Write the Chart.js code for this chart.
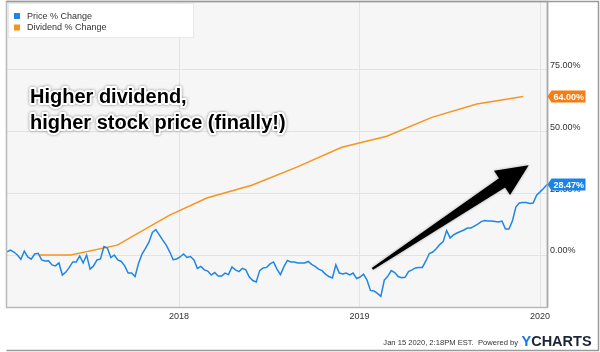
<!DOCTYPE html>
<html>
<head>
<meta charset="utf-8">
<script src="https://cdn.jsdelivr.net/npm/chart.js@4.4.1/dist/chart.umd.min.js"></script>
<style>
  html, body { margin: 0; padding: 0; background: #ffffff; }
  #wrap { position: relative; width: 600px; height: 352px; }
  canvas { display: block; }
</style>
</head>
<body>
<div id="wrap"><canvas id="c" width="600" height="352"></canvas></div>
<script>
// ---------- DATA ----------
const startDate = '2017-01-18';
const stepDays = 7; // weekly readings of the price line
const priceValues = [
  1.3, 2.0, 1.2, 0.0, -1.7, 1.6, -0.8, -1.7, 0.4, 0.7,
  -2.0, -2.4, -2.3, -4.0, -4.4, -3.2, -8.1, -6.9, -5.0, -2.8,
  -2.8, -0.4, -3.2, 0.0, -5.7, -4.4, -2.0, -1.6, 3.4, 2.8,
  -1.0, 0.0, -2.0, -2.6, -4.4, -7.3, -7.3, -8.7, -3.4, 0.4,
  2.7, 5.2, 9.1, 10.3, 8.1, 6.0, 4.0, 1.3, -1.9, -1.6,
  -0.8, 0.4, -1.0, -0.6, -2.0, -5.4, -4.6, -6.0, -6.5, -8.1,
  -7.1, -8.5, -8.5, -7.3, -7.9, -4.8, -6.0, -6.7, -5.4, -6.0,
  -8.9, -10.3, -10.9, -6.3, -5.2, -5.0, -3.6, -2.8, -5.7, -7.9,
  -4.7, -2.2, -2.8, -2.8, -3.2, -3.2, -3.2, -2.6, -3.8, -4.6,
  -5.7, -6.3, -7.7, -8.7, -9.3, -4.0, -7.3, -7.7, -7.3, -8.0,
  -7.3, -9.5, -8.9, -7.7, -10.1, -14.3, -14.5, -15.5, -16.7, -10.1,
  -8.6, -6.3, -7.1, -8.7, -9.2, -9.0, -6.7, -6.0, -5.2, -5.0,
  -5.0, -2.4, 0.6, 1.2, 2.5, 4.2, 5.4, 9.9, 6.9, 8.1,
  8.9, 9.5, 10.1, 10.9, 10.9, 11.7, 12.5, 13.5, 13.9, 13.7,
  13.7, 13.5, 13.3, 13.7, 10.5, 10.5, 13.7, 19.4, 21.0, 21.2,
  21.2, 20.8, 21.0, 24.2, 25.5, 26.9, 28.47
];
const dividendDates = [
  '2017-03-24', '2017-05-27', '2017-08-29', '2017-12-12',
  '2018-02-26', '2018-05-28', '2018-08-27', '2018-11-26',
  '2019-02-25', '2019-05-27', '2019-08-26', '2019-11-28'
];
const dividendValues = [0, 0, 4.0, 16.0, 23.0, 28.2, 35.5, 43.5, 48.0, 55.6, 61.0, 64.0];
const yearTickDates = ['2018-01-01', '2019-01-01', '2020-01-01'];
const yTickValues = [0, 25, 50, 75];
const seriesNames = ['Price % Change', 'Dividend % Change'];
const annotationLines = ['Higher dividend,', 'higher stock price (finally!)'];
const arrowFrom = { date: '2019-01-27', value: -5.6 };
const arrowTo = { date: '2019-12-09', value: 36.3 };
const footerText = 'Jan 15 2020, 2:18PM EST.  Powered by';

// ---------- helpers ----------
const DAY = 86400000;
const t0 = Date.parse(startDate);
const dayOf = d => (Date.parse(d) - t0) / DAY;
const priceLastDay = (priceValues.length - 1) * stepDays;

const BLUE = '#1d86e6';
const ORANGE = '#f7941f';
const FONT = '"Liberation Sans", Arial, Helvetica, sans-serif';

const pricePoints = priceValues.map((v, i) => ({ x: i * stepDays, y: v }));
const dividendPoints = dividendDates.map((d, i) => ({ x: dayOf(d), y: dividendValues[i] }));

function drawTag(ctx, x, y, text, color) {
  const h = 12, tip = 4, w = 34;
  ctx.save();
  ctx.fillStyle = color;
  ctx.beginPath();
  ctx.moveTo(x, y);
  ctx.lineTo(x + tip, y - h / 2);
  ctx.lineTo(x + tip + w, y - h / 2);
  ctx.lineTo(x + tip + w, y + h / 2);
  ctx.lineTo(x + tip, y + h / 2);
  ctx.closePath();
  ctx.fill();
  ctx.fillStyle = '#ffffff';
  ctx.font = 'bold 9px ' + FONT;
  ctx.textBaseline = 'middle';
  ctx.textAlign = 'left';
  ctx.fillText(text, x + tip + 2, y + 0.5);
  ctx.restore();
}

const decorPlugin = {
  id: 'decor',
  beforeDraw(chart) {
    const { ctx, chartArea: a } = chart;
    ctx.save();
    ctx.fillStyle = '#ffffff';
    ctx.fillRect(0, 0, chart.width, chart.height);
    ctx.fillStyle = '#f6f6f6';
    ctx.fillRect(a.left, a.top, a.right - a.left, a.bottom - a.top);
    ctx.restore();
  },
  afterDraw(chart) {
    const { ctx, chartArea: a, scales } = chart;
    const xs = scales.x, ys = scales.y;
    ctx.save();

    // frames
    ctx.strokeStyle = '#b9b9b9';
    ctx.lineWidth = 1.5;
    ctx.strokeRect(a.left - 0.5, a.top - 0.5, a.right - a.left + 1, a.bottom - a.top + 1);
    ctx.strokeStyle = '#a8a8a8';
    ctx.beginPath();
    ctx.moveTo(a.right + 0.5, a.top);
    ctx.lineTo(a.right + 0.5, a.bottom);
    ctx.stroke();
    ctx.strokeStyle = '#9a9a9a';
    ctx.beginPath();
    ctx.moveTo(a.left - 0.5, a.top - 0.5);
    ctx.lineTo(598.5, a.top - 0.5);
    ctx.lineTo(598.5, 350.5);
    ctx.lineTo(a.left - 0.5, 350.5);
    ctx.stroke();

    // legend box
    ctx.fillStyle = '#ffffff';
    ctx.fillRect(a.left + 1, a.top + 1, 185, 34);
    ctx.strokeStyle = '#e8e8e8';
    ctx.lineWidth = 1;
    ctx.strokeRect(a.left + 1.5, a.top + 1.5, 185, 34);
    const legColors = [BLUE, ORANGE];
    ctx.font = '9px ' + FONT;
    ctx.textBaseline = 'middle';
    ctx.textAlign = 'left';
    seriesNames.forEach((name, i) => {
      const cy = 16 + i * 11.5;
      ctx.fillStyle = legColors[i];
      ctx.fillRect(14, cy - 3, 6, 6);
      ctx.fillStyle = '#333333';
      ctx.fillText(name, 27, cy + 0.5);
    });

    // annotation text
    ctx.font = 'bold 20px ' + FONT;
    ctx.textBaseline = 'alphabetic';
    ctx.lineJoin = 'round';
    annotationLines.forEach((line, i) => {
      const tx = 30, ty = 102.5 + i * 26;
      ctx.save();
      ctx.shadowColor = 'rgba(0,0,0,0.45)';
      ctx.shadowBlur = 3;
      ctx.strokeStyle = '#ffffff';
      ctx.lineWidth = 4;
      ctx.strokeText(line, tx, ty);
      ctx.restore();
      ctx.fillStyle = '#000000';
      ctx.fillText(line, tx, ty);
    });

    // arrow
    const p0 = { x: xs.getPixelForValue(dayOf(arrowFrom.date)), y: ys.getPixelForValue(arrowFrom.value) };
    const p1 = { x: xs.getPixelForValue(dayOf(arrowTo.date)), y: ys.getPixelForValue(arrowTo.value) };
    const dx = p1.x - p0.x, dy = p1.y - p0.y, len = Math.hypot(dx, dy);
    const ux = dx / len, uy = dy / len, nx = -uy, ny = ux;
    const headLen = 32, headHalf = 14.5, tailHalf = 1.2, baseHalf = 5.5;
    const bx = p1.x - ux * headLen, by = p1.y - uy * headLen;
    ctx.save();
    ctx.shadowColor = 'rgba(0,0,0,0.35)';
    ctx.shadowBlur = 3;
    ctx.fillStyle = '#000000';
    ctx.beginPath();
    ctx.moveTo(p0.x + nx * tailHalf, p0.y + ny * tailHalf);
    ctx.lineTo(bx + nx * baseHalf, by + ny * baseHalf);
    ctx.lineTo(bx + nx * headHalf, by + ny * headHalf);
    ctx.lineTo(p1.x, p1.y);
    ctx.lineTo(bx - nx * headHalf, by - ny * headHalf);
    ctx.lineTo(bx - nx * baseHalf, by - ny * baseHalf);
    ctx.lineTo(p0.x - nx * tailHalf, p0.y - ny * tailHalf);
    ctx.closePath();
    ctx.fill();
    ctx.restore();

    // last-value tags
    const lastDiv = dividendValues[dividendValues.length - 1];
    const lastPrice = priceValues[priceValues.length - 1];
    drawTag(ctx, a.right + 0.5, ys.getPixelForValue(lastDiv), lastDiv.toFixed(2) + '%', '#f57d12');
    drawTag(ctx, a.right + 0.5, ys.getPixelForValue(lastPrice), lastPrice.toFixed(2) + '%', '#1a84e6');

    // footer
    ctx.textBaseline = 'alphabetic';
    ctx.textAlign = 'right';
    ctx.fillStyle = '#333333';
    ctx.font = '7.6px ' + FONT;
    ctx.fillText(footerText, 518, 345);
    ctx.textAlign = 'left';
    ctx.font = 'bold 14.5px ' + FONT;
    ctx.fillStyle = '#1f74e6';
    ctx.fillText('Y', 521.5, 346);
    const yw = ctx.measureText('Y').width;
    ctx.fillStyle = '#1b2536';
    ctx.fillText('CHARTS', 521.5 + yw, 346);

    ctx.restore();
  }
};

new Chart(document.getElementById('c'), {
  type: 'line',
  data: {
    datasets: [
      { label: seriesNames[0], data: pricePoints, borderColor: BLUE, borderWidth: 1.5, pointRadius: 0, tension: 0, fill: false },
      { label: seriesNames[1], data: dividendPoints, borderColor: ORANGE, borderWidth: 1.5, pointRadius: 0, tension: 0, fill: false }
    ]
  },
  options: {
    responsive: false,
    animation: false,
    devicePixelRatio: 1,
    layout: { padding: { left: 7, top: 2, right: 0, bottom: 0 } },
    plugins: { legend: { display: false }, tooltip: { enabled: false } },
    scales: {
      x: {
        type: 'linear',
        min: 0,
        max: priceLastDay,
        afterBuildTicks: s => { s.ticks = yearTickDates.map(d => ({ value: dayOf(d) })); },
        afterFit: s => { s.height = 45; s.paddingLeft = 0; s.paddingRight = 0; },
        ticks: {
          callback: (v) => {
            const i = yearTickDates.findIndex(d => Math.abs(dayOf(d) - v) < 0.5);
            return i >= 0 ? yearTickDates[i].slice(0, 4) : '';
          },
          font: { family: FONT, size: 9 },
          color: '#333333',
          padding: 4,
          maxRotation: 0,
          autoSkip: false
        },
        grid: { color: '#e3e3e3', lineWidth: 1, drawTicks: false },
        border: { display: false }
      },
      y: {
        position: 'right',
        min: -21,
        max: 102.2,
        afterBuildTicks: s => { s.ticks = yTickValues.map(v => ({ value: v })); },
        afterFit: s => { s.width = 53; s.paddingTop = 0; s.paddingBottom = 0; },
        ticks: {
          callback: v => Number(v).toFixed(2) + '%',
          font: { family: FONT, size: 9 },
          color: '#333333',
          padding: 3,
          labelOffset: -4,
          autoSkip: false
        },
        grid: { color: '#e3e3e3', lineWidth: 1, drawTicks: false },
        border: { display: false }
      }
    }
  },
  plugins: [decorPlugin]
});
</script>
</body>
</html>
